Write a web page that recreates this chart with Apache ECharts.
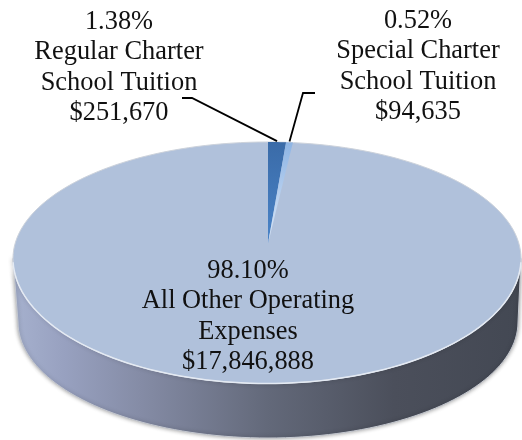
<!DOCTYPE html>
<html>
<head>
<meta charset="utf-8">
<style>html,body{margin:0;padding:0;background:#fff}#chart{width:522px;height:440px}</style>
<script src="https://cdn.jsdelivr.net/npm/echarts@6/dist/echarts.min.js"></script>
</head>
<body>
<div id="chart"></div>
<script>
// Expense shares, clockwise from twelve o'clock.
const categories = ["Regular Charter\nSchool Tuition", "Special Charter\nSchool Tuition", "All Other Operating\nExpenses"];
const amounts = [251670, 94635, 17846888];
const percents = ["1.38%", "0.52%", "98.10%"];

// Tilted-disc projection used by every mark. The near half of the face is
// taller than the far half, as it would be under perspective.
const disc = { cx: 267, cy: 258.5, rx: 254, ryFar: 116.5, ryNear: 125, apexLift: 15, foreshorten: 0.82,
               baseCx: 268, baseCy: 322, baseRx: 250, baseRy: 116 };
const labelAnchors = [[119, 7], [418, 6], [248, 256]];
const leaderElbows = [[[182, 98], [192, 98]], [[315, 93], [303, 93]]];

const total = amounts.reduce((a, b) => a + b, 0);
const fractions = amounts.map(v => v / total);

// Rim point for a pie angle measured clockwise from the top.
function rimPoint(theta) {
  const t = Math.atan2(Math.sin(theta) * disc.foreshorten, Math.cos(theta));
  return [disc.cx + disc.rx * Math.sin(t) + 1, disc.cy - disc.ryFar * Math.cos(t)];
}
function sliceAngles(i) {
  const start = fractions.slice(0, i).reduce((a, b) => a + b, 0) * 2 * Math.PI;
  return [start, start + fractions[i] * 2 * Math.PI];
}
function ellipseArc(cx, cy, rx, ry, from, to, steps) {
  const pts = [];
  for (let k = 0; k <= steps; k++) {
    const a = from + (to - from) * k / steps;
    pts.push([cx + rx * Math.cos(a), cy + ry * Math.sin(a)]);
  }
  return pts;
}
const nearRim = (from, to) => ellipseArc(disc.cx, disc.cy, disc.rx, disc.ryNear, from, to, 90);
const farRim = () => ellipseArc(disc.cx, disc.cy, disc.rx, disc.ryFar, Math.PI, 2 * Math.PI, 90);

function renderWall() {
  const lower = ellipseArc(disc.baseCx, disc.baseCy, disc.baseRx, disc.baseRy, Math.PI, 0, 90);
  return {
    type: 'polygon',
    shape: { points: nearRim(0, Math.PI).concat(lower) },
    style: {
      fill: new echarts.graphic.LinearGradient(0, 0, 1, 0, [
        { offset: 0, color: '#a6b1ce' },
        { offset: 0.1, color: '#98a1c0' },
        { offset: 0.25, color: '#858ca6' },
        { offset: 0.5, color: '#63697a' },
        { offset: 0.75, color: '#4b4f5b' },
        { offset: 1, color: '#434853' }
      ]),
      stroke: '#c4c8d0',
      lineWidth: 1,
      shadowBlur: 4,
      shadowColor: 'rgba(0,0,0,0.4)'
    }
  };
}

function renderSlice(params, api) {
  const i = api.value(1);
  const apex = [disc.cx + 1, disc.cy - disc.apexLift];
  const [a0, a1] = sliceAngles(i);
  if (i === 2) {
    // The large slice fills the whole top face; the small wedges sit over it.
    return {
      type: 'group',
      children: [
        { type: 'polygon', shape: { points: nearRim(0, Math.PI).concat(farRim()) },
          style: { fill: '#b0c1db', stroke: '#ccd2db', lineWidth: 1 } },
        { type: 'polyline', shape: { points: nearRim(0.03, Math.PI - 0.03) },
          style: { stroke: '#e4eaf3', lineWidth: 1.5, fill: 'none' } }
      ]
    };
  }
  const pts = [apex];
  for (let k = 0; k <= 6; k++) pts.push(rimPoint(a0 + (a1 - a0) * k / 6));
  const fill = i === 0
    ? new echarts.graphic.LinearGradient(0, 0, 0, 1, [
        { offset: 0, color: '#3a6ba8' }, { offset: 1, color: '#4a84c8' }])
    : new echarts.graphic.LinearGradient(0, 0, 0, 1, [
        { offset: 0, color: '#8db4e4' }, { offset: 1, color: '#dbe8f8' }]);
  return { type: 'polygon', shape: { points: pts }, style: { fill } };
}

function renderLabel(params, api) {
  const i = api.value(1);
  const children = [{
    type: 'text',
    style: {
      text: percents[i] + '\n' + categories[i] + '\n$' + amounts[i].toLocaleString('en-US'),
      x: labelAnchors[i][0], y: labelAnchors[i][1],
      textAlign: 'center', textVerticalAlign: 'top',
      fontFamily: '"Liberation Serif", "Times New Roman", serif',
      fontSize: 26.4, lineHeight: 30.3, fill: '#111'
    }
  }];
  if (i < 2) {
    const [a0, a1] = sliceAngles(i);
    const tip = rimPoint((a0 + a1) / 2);
    children.push({
      type: 'polyline',
      shape: { points: leaderElbows[i].concat([[tip[0], tip[1] - 1]]) },
      style: { stroke: '#000', lineWidth: 1.8, fill: 'none' }
    });
  }
  return { type: 'group', children };
}

const sliceData = amounts.map((v, i) => [v, i]);
const chart = echarts.init(document.getElementById('chart'), null, { renderer: 'canvas' });
chart.setOption({
  animation: false,
  backgroundColor: '#fff',
  series: [
    { type: 'custom', coordinateSystem: 'none', silent: true, z: 1, data: [[total, 0]], renderItem: renderWall },
    { type: 'custom', coordinateSystem: 'none', silent: true, z: 2, data: [sliceData[2], sliceData[0], sliceData[1]], renderItem: renderSlice },
    { type: 'custom', coordinateSystem: 'none', silent: true, z: 3, data: sliceData, renderItem: renderLabel }
  ]
});
</script>
</body>
</html>
